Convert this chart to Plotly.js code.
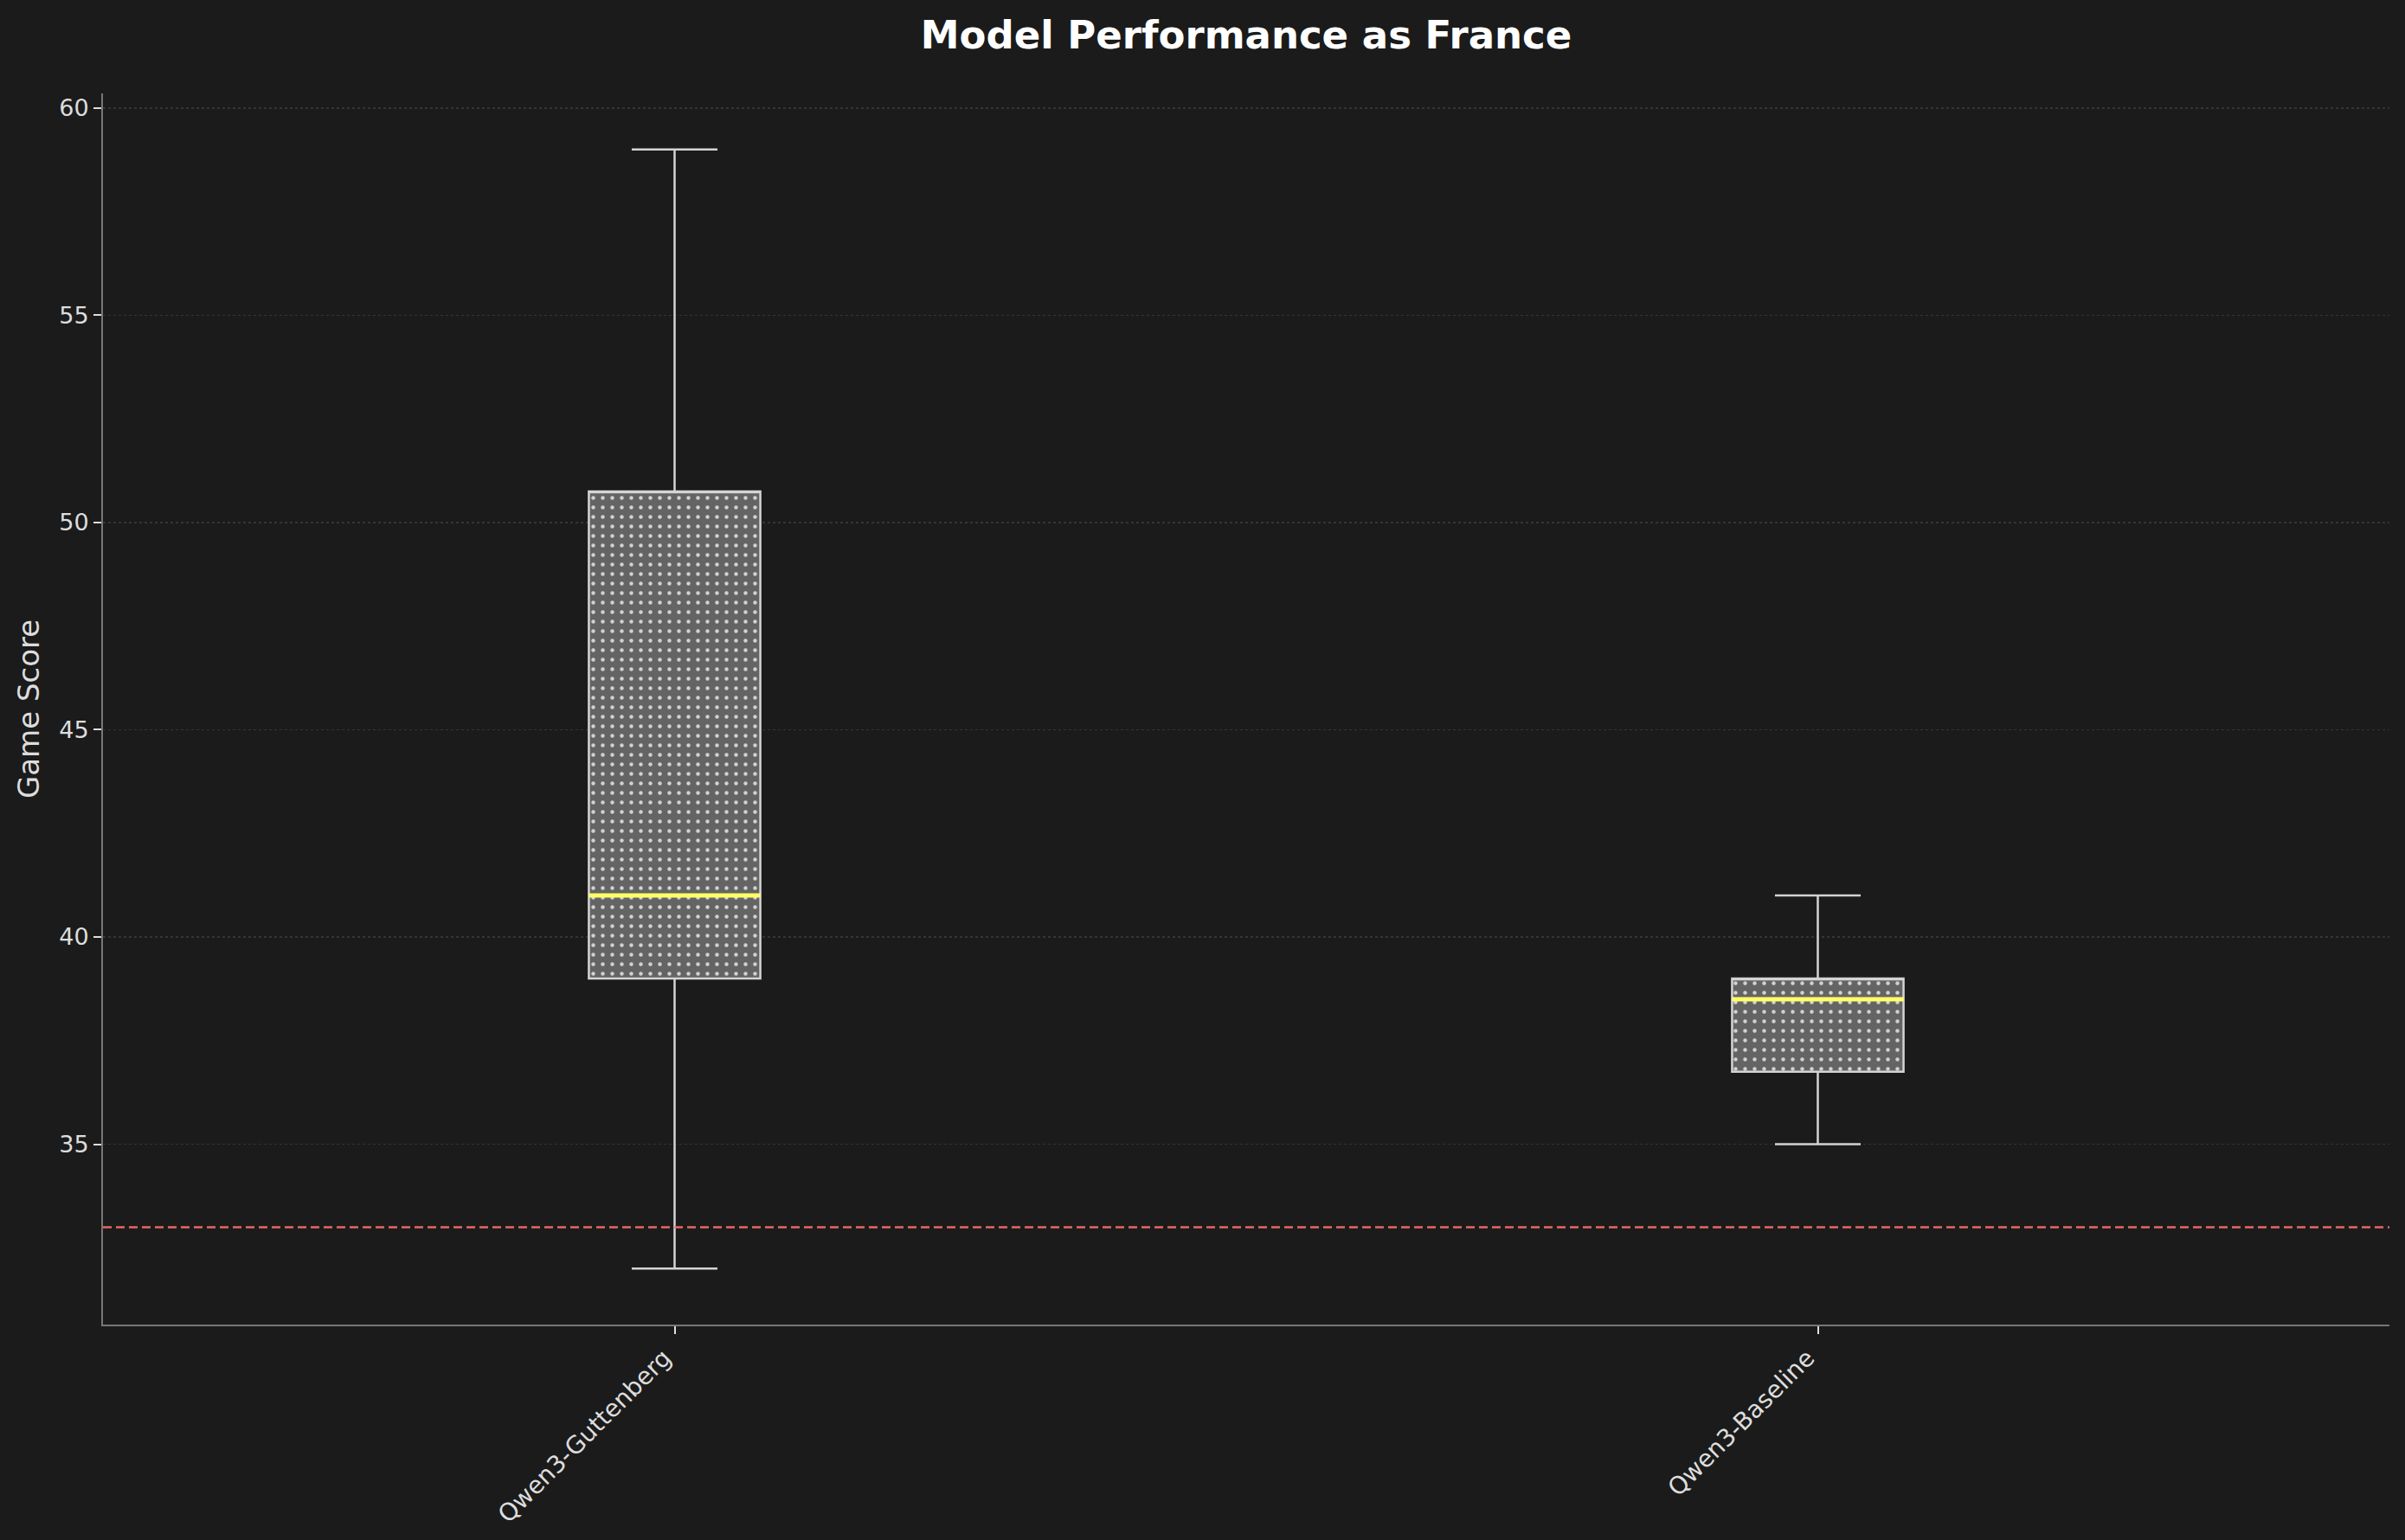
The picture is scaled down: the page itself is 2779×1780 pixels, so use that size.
<!DOCTYPE html>
<html>
<head>
<meta charset="utf-8">
<script src="https://cdn.plot.ly/plotly-3.0.1.min.js"></script>
<style>
  html, body { margin: 0; padding: 0; background: #1b1b1b; }
  #chart { width: 2779px; height: 1780px; }
</style>
</head>
<body>
<div id="chart"></div>
<script>
// box stats
const models = ['Qwen3-Guttenberg', 'Qwen3-Baseline']
const lowerFence = [32, 35]
const q1 = [39, 36.75]
const median = [41, 38.5]
const q3 = [50.75, 39]
const upperFence = [59, 41]
const referenceScore = 33   // dashed red line

const bgColor = '#1b1b1b'
const textColor = '#dddddd'
const edgeColor = '#d4d4d4'
const boxWidth = 0.15

// dotted fill of the boxes (box traces have no pattern, so a bar does it)
var fillTrace = {
    type: 'bar',
    x: models,
    base: q1,
    y: q3.map((v, i) => v - q1[i]),
    width: boxWidth,
    marker: {
        color: '#646464',
        line: {width: 0},
        pattern: {shape: '.', size: 11, solidity: 0.13, fgcolor: '#d2d2d2', bgcolor: '#646464'},
    },
    hoverinfo: 'skip',
    showlegend: false,
}

// outline + whiskers
var boxTrace = {
    type: 'box',
    x: models,
    q1: q1,
    median: q3, // median drawn separately in yellow
    q3: q3,
    lowerfence: lowerFence,
    upperfence: upperFence,
    width: boxWidth,
    whiskerwidth: 0.5,
    boxpoints: false,
    fillcolor: 'rgba(0,0,0,0)',
    line: {color: edgeColor, width: 2.5},
    showlegend: false,
}

// median as a flat box
var medianTrace = {
    type: 'box',
    x: models,
    q1: median,
    median: median,
    q3: median,
    lowerfence: median,
    upperfence: median,
    width: boxWidth,
    whiskerwidth: 0,
    boxpoints: false,
    fillcolor: 'rgba(0,0,0,0)',
    line: {color: '#ffff66', width: 5},
    showlegend: false,
}

var layout = {
    width: 2779,
    height: 1780,
    paper_bgcolor: bgColor,
    plot_bgcolor: bgColor,
    font: {family: 'DejaVu Sans', color: textColor, size: 26},
    showlegend: false,
    boxmode: 'overlay',
    barmode: 'overlay',
    margin: {l: 119, r: 18, t: 108, b: 249},
    title: {
        text: '<b>Model Performance as France</b>',
        font: {family: 'DejaVu Sans', size: 45, color: '#ffffff'},
        x: 0.5, xref: 'paper', xanchor: 'center',
        y: 1 - 40 / 1780, yref: 'container', yanchor: 'middle',
    },
    xaxis: {
        type: 'category',
        range: [-0.5, 1.5],
        tickangle: -45,
        tickfont: {size: 28, color: textColor},
        ticklabelshift: -12,
        ticks: 'outside', ticklen: 9, tickwidth: 2, tickcolor: textColor,
        showline: true, linecolor: '#777777', linewidth: 2,
        showgrid: false, zeroline: false,
        fixedrange: true,
    },
    yaxis: {
        range: [30.65, 60.35],
        tick0: 35, dtick: 5,
        tickfont: {size: 27, color: textColor},
        ticks: 'outside', ticklen: 9, tickwidth: 2, tickcolor: textColor,
        showline: true, linecolor: '#777777', linewidth: 2,
        showgrid: true, gridcolor: '#353535', gridwidth: 1.5, griddash: 'dot',
        zeroline: false,
        title: {text: 'Game Score', font: {size: 34, color: textColor}, standoff: 12},
        fixedrange: true,
    },
    shapes: [{
        type: 'line', xref: 'paper', x0: 0, x1: 1,
        yref: 'y', y0: referenceScore, y1: referenceScore,
        line: {color: 'rgba(255,110,110,0.9)', width: 2.5, dash: '10px,5px'},
        layer: 'above',
    }],
}

Plotly.newPlot('chart', [fillTrace, boxTrace, medianTrace], layout, {displayModeBar: false, staticPlot: true})
</script>
</body>
</html>
